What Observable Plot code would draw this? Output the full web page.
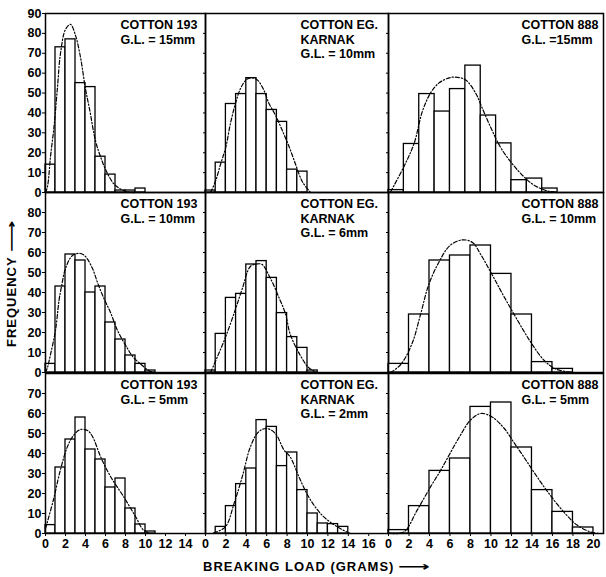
<!DOCTYPE html>
<html><head><meta charset="utf-8">
<script src="https://cdn.jsdelivr.net/npm/d3@7"></script>
<script src="https://cdn.jsdelivr.net/npm/@observablehq/plot@0.6"></script>
<style>
body{margin:0;background:#fff;}
#chart{position:relative;width:606px;height:577px;overflow:hidden;font-family:"Liberation Sans",Arial,sans-serif;background:#fff;}
#chart svg{position:absolute;}
.lab{position:absolute;font-weight:bold;color:#000;white-space:nowrap;font-size:13px;letter-spacing:1px;line-height:16px;}
.arrow{display:inline-block;transform:scaleX(1.7);transform-origin:left center;margin-left:4px;font-family:"DejaVu Sans",sans-serif;letter-spacing:0;}
</style></head><body><div id="chart"></div>
<script>
// ---------- DATA ----------
const xTitle = "BREAKING LOAD (GRAMS)";
const yTitle = "FREQUENCY";
const titles = [
  ["COTTON 193\nG.L. = 15mm", "COTTON EG.\nKARNAK\nG.L. = 10mm", "COTTON 888\nG.L. =15mm"],
  ["COTTON 193\nG.L. = 10mm", "COTTON EG.\nKARNAK\nG.L. = 6mm", "COTTON 888\nG.L. = 10mm"],
  ["COTTON 193\nG.L. = 5mm", "COTTON EG.\nKARNAK\nG.L. = 2mm", "COTTON 888\nG.L. = 5mm"]
];
// class widths (grams)
const binWidths = [[1, 1, 1.5], [1, 1, 2], [1, 1, 2]];
// histogram frequencies (classes start at 0)
const f193_15 = [14, 73, 77, 55, 53, 18, 9, 1, 1, 2];
const f193_10 = [4.3, 43, 59, 56, 40, 43, 25, 16.5, 8.5, 4.3, 1];
const f193_5  = [4.2, 33, 47, 58, 42, 37, 23, 27.5, 12.5, 4.5, 1];
const fEG_10  = [1, 15, 44.5, 49.5, 57.5, 49.5, 41.5, 35.5, 11.5, 10.5];
const fEG_6   = [1, 19.3, 37.3, 39.3, 54, 55.7, 47.3, 29.7, 17.7, 12.3, 1];
const fEG_2   = [0, 3.3, 13.7, 24.7, 32.5, 56.7, 53.3, 33.7, 40.5, 21.7, 10, 5, 4.7, 3.3];
const f888_15 = [1.2, 24.4, 49.5, 40.7, 52, 63.8, 38.7, 24.7, 6.2, 7, 2];
const f888_10 = [4.3, 29, 56, 58.5, 63.5, 49.3, 29, 5.2, 1.8];
const f888_5  = [1.7, 13.7, 31.3, 37.5, 63.3, 65.5, 43, 21.7, 10.8, 3];
// fitted curves [grams, frequency]
const c193_15 = [[0,0],[0.2,3],[0.5,18],[0.85,33],[1.2,53],[1.5,70],[2,82],[2.5,84.5],[3,79],[3.5,68],[4,52],[4.4,42],[5,26],[5.5,18],[6.2,9.5],[7,3.5],[8.2,0.3],[9,0]];
const c193_10 = [[0,0],[0.2,2.5],[0.5,9],[1,21],[1.35,36],[1.6,43],[2,52],[2.7,58.5],[3.5,59.5],[4,58],[4.7,52],[5.2,45],[5.8,37.5],[6.5,30],[7.2,21],[8.2,12],[8.8,7.5],[9.5,4.3],[10.3,1],[10.8,0]];
const c193_5  = [[0,2.5],[0.8,17],[1.5,32],[2.2,43.5],[2.8,49],[3.5,52],[4.2,51.5],[4.7,48.5],[5.5,38.5],[6.5,28.5],[7.8,18.5],[9,8.5],[9.8,1.7],[10.5,0]];
const cEG_10  = [[0.5,0],[1,6],[1.5,14.6],[2,23],[2.45,34.8],[2.95,45],[3.45,52.5],[4,56.7],[4.4,57.6],[5.05,56.7],[5.7,51.7],[6.2,45],[6.85,39],[7.5,31.5],[8.2,23],[8.8,14.6],[9.5,5.4],[10.3,0]];
const cEG_6   = [[0.5,0],[1.15,7.7],[1.95,17.5],[2.95,31.8],[3.6,41.8],[4.4,53],[5.1,54.3],[5.55,54],[6.35,47.2],[7.2,37.5],[7.85,29.2],[8.3,19.2],[9.3,8.5],[10.1,2.5],[10.9,0]];
const cEG_2   = [[0.8,0.3],[1.95,3.3],[2.8,15],[3.6,28.3],[4.4,43.3],[5.2,50.8],[6,52.5],[6.85,50],[7.7,41.7],[8.3,38.3],[9.3,26.7],[10.3,16.7],[11.6,8.3],[13.2,2.5],[14.2,0]];
const c888_15 = [[0.2,0.3],[1.5,13],[2.5,24.7],[3.3,40.7],[4.1,50],[4.9,55],[5.9,57.6],[6.5,58],[7.5,56.7],[8.5,50],[9.1,43],[9.95,33],[10.9,23],[12.05,14.6],[13.2,8],[14.2,3.7],[15.5,0.8],[16.5,0]];
const c888_10 = [[0.2,0],[1.2,4],[2.3,14.5],[3.1,28.5],[3.9,43.5],[4.9,55],[6,63.5],[7.2,66.3],[8.2,65],[9,59],[10.1,49],[11.3,37.7],[12.6,26],[13.9,15],[15.2,6],[16.3,1.8],[17.8,0]];
const c888_5  = [[0.2,0],[1.5,0.8],[2.8,11.7],[4.1,23.3],[5.1,31.7],[6,40],[7,49],[8,56.7],[9,60],[10.1,58.3],[11.3,52.5],[12.2,45.8],[13.2,38.3],[14.5,28.3],[15.8,19],[17.1,10.8],[18.4,4.2],[19.7,0.8],[20.5,0]];
const freqs  = [[f193_15, fEG_10, f888_15], [f193_10, fEG_6, f888_10], [f193_5, fEG_2, f888_5]];
const curves = [[c193_15, cEG_10, c888_15], [c193_10, cEG_6, c888_10], [c193_5, cEG_2, c888_5]];
const yTicks = [[0,10,20,30,40,50,60,70,80,90], [0,10,20,30,40,50,60,70,80], [0,10,20,30,40,50,60,70]];
const xTicks = [[0,2,4,6,8,10,12,14], [0,2,4,6,8,10,12,14,16], [0,2,4,6,8,10,12,14,16,18,20]];
const xMax = [16, 17.94, 20.98];
const yMax = [90, 90, 80];

// ---------- LAYOUT ----------
const colL = [45, 205, 388], colR = [205, 388, 603];
const rowT = [13, 192, 373], rowB = [192, 372, 533];
const titleDx = [-85, -88, -82];
const FONT = '"Liberation Sans", Arial, sans-serif';

const chart = document.getElementById("chart");
for (let r = 0; r < 3; r++) {
  for (let c = 0; c < 3; c++) {
    const w = binWidths[r][c];
    const bars = freqs[r][c].map((f, i) => ({x1: i * w, x2: (i + 1) * w, y: f}));
    const pts = curves[r][c].map(([x, y]) => ({x, y}));
    const mL = c === 0 ? 45 : 8, mR = 8, mT = 8, mB = r === 2 ? 32 : 8;
    const marks = [
      Plot.rectY(bars, {x1: "x1", x2: "x2", y: "y", fill: "white", stroke: "black", strokeWidth: 1.3}),
      Plot.line(pts, {x: "x", y: "y", curve: "catmull-rom", stroke: "black", strokeWidth: 1.2, strokeDasharray: "4,2,1.2,2"}),
      Plot.frame({stroke: "black", strokeWidth: 1.5}),
      c === 0
        ? Plot.axisY({ticks: yTicks[r], tickSize: 3, tickPadding: 1, fontSize: 12.5, fontWeight: "bold", label: null})
        : Plot.axisY({ticks: yTicks[r], tickSize: 2, tickFormat: () => "", label: null}),
      Plot.text([titles[r][c]], {frameAnchor: "top-right", textAnchor: "start", lineAnchor: "top", dx: titleDx[c], dy: 5, lineHeight: 1.18, fontSize: 12.5, fontWeight: "bold", fill: "black"})
    ];
    if (r === 2) marks.push(Plot.axisX({ticks: xTicks[c], tickSize: 3, tickPadding: 3, fontSize: 12.5, fontWeight: "bold", label: null}));
    const svg = Plot.plot({
      width: colR[c] - colL[c] + mL + mR,
      height: rowB[r] - rowT[r] + mT + mB,
      marginLeft: mL, marginRight: mR, marginTop: mT, marginBottom: mB,
      x: {domain: [0, xMax[c]], axis: null},
      y: {domain: [0, yMax[r]], axis: null},
      style: {background: "transparent", overflow: "visible", fontFamily: FONT, fontWeight: "bold", color: "black"},
      marks
    });
    svg.style.left = (colL[c] - mL) + "px";
    svg.style.top = (rowT[r] - mT) + "px";
    chart.appendChild(svg);
  }
}
const xl = document.createElement("div");
xl.className = "lab";
xl.style.left = "203px"; xl.style.top = "559px";
xl.innerHTML = xTitle + '<span class="arrow">⟶</span>';
chart.appendChild(xl);
const yl = document.createElement("div");
yl.className = "lab";
yl.style.left = "4px"; yl.style.top = "347px";
yl.style.transform = "rotate(-90deg)"; yl.style.transformOrigin = "left top";
yl.innerHTML = yTitle + '<span class="arrow">⟶</span>';
chart.appendChild(yl);
</script></body></html>
